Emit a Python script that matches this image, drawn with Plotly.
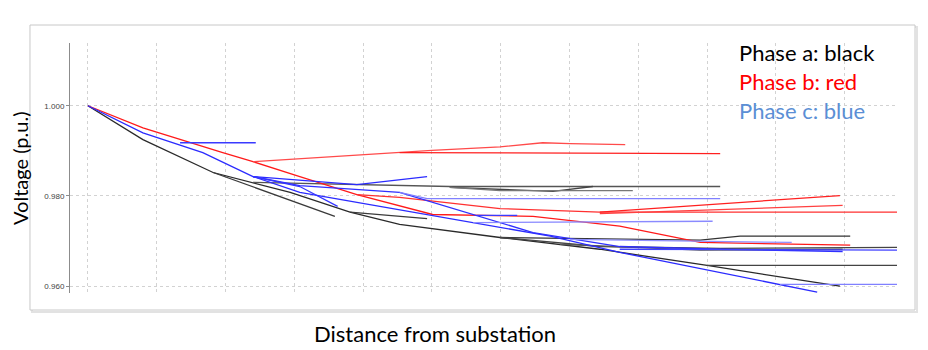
import plotly.graph_objects as go

# distance from substation (grid units) and voltage (p.u.) for each branch
phase_a_dist = [
    [0, 0.80, 1.82, 2.94, 3.81, 4.53, 5.99, 7.44, 9.00, 10.93],
    [9.00, 11.76],
    [3.81, 4.93],
    [1.82, 3.59],
    [2.40, 5.26, 9.19],
    [5.26, 6.76, 7.34],
    [5.26, 5.99, 7.92],
    [5.99, 8.90, 9.48, 11.08],
    [5.99, 7.44, 9.19, 11.76],
    [6.86, 8.90, 10.97],
]
phase_a_volt = [
    [1.0, 0.9925, 0.9852, 0.9808, 0.9764, 0.9737, 0.9708, 0.9682, 0.9646, 0.9600],
    [0.9646, 0.9646],
    [0.9764, 0.9750],
    [0.9852, 0.9755],
    [0.9830, 0.9821, 0.9821],
    [0.9819, 0.9810, 0.9821],
    [0.9819, 0.9812, 0.9812],
    [0.9708, 0.9702, 0.9711, 0.9711],
    [0.9708, 0.9688, 0.9684, 0.9686],
    [0.9693, 0.9680, 0.9682],
]

phase_b_dist = [
    [0, 0.80, 1.96, 2.40, 3.08, 3.91, 5.01, 6.47, 7.73, 8.90, 11.08],
    [3.91, 4.53, 5.99, 7.44, 11.76],
    [7.44, 10.93],
    [7.44, 10.97],
    [2.40, 4.00, 5.00, 5.99, 6.61, 7.01, 7.81],
    [4.53, 9.19],
]
phase_b_volt = [
    [1.0, 0.9951, 0.9896, 0.9876, 0.9843, 0.9803, 0.9759, 0.9755, 0.9733, 0.9697, 0.9691],
    [0.9803, 0.9797, 0.9772, 0.9764, 0.9764],
    [0.9764, 0.9801],
    [0.9761, 0.9779],
    [0.9876, 0.9892, 0.9901, 0.9909, 0.9918, 0.9916, 0.9914],
    [0.9896, 0.9894],
]

phase_c_dist = [
    [0, 0.80, 1.67, 2.40, 3.08, 5.60, 6.72, 7.73, 9.19, 10.60],
    [1.34, 2.44],
    [2.40, 3.91, 4.93],
    [2.40, 3.08, 4.53, 6.47, 7.73, 9.19, 10.97],
    [2.40, 3.08, 3.63],
    [4.53, 4.93, 9.19],
    [5.65, 6.24],
    [5.60, 9.08],
    [10.06, 11.76],
    [7.73, 11.76],
    [7.01, 10.23],
]
phase_c_volt = [
    [1.0, 0.9940, 0.9896, 0.9843, 0.9808, 0.9741, 0.9711, 0.9675, 0.9631, 0.9587],
    [0.9918, 0.9918],
    [0.9843, 0.9825, 0.9843],
    [0.9843, 0.9823, 0.9808, 0.9719, 0.9688, 0.9682, 0.9677],
    [0.9843, 0.9821, 0.9777],
    [0.9808, 0.9794, 0.9794],
    [0.9757, 0.9757],
    [0.9741, 0.9744],
    [0.9604, 0.9604],
    [0.9682, 0.9680],
    [0.9704, 0.9697],
]

y_ticks = [0.96, 0.98, 1.00]
y_tick_text = ["0.960", "0.980", "1.000"]
legend_text = ["Phase a: black", "Phase b: red", "Phase c: blue"]

# line colours per branch
a_colors = ["#2a2a2a", "#444444", "#3a3a3a", "#3a3a3a", "#555555",
            "#444444", "#777777", "#333333", "#444444", "#555555"]
b_colors = ["#ff1a1a", "#ff3030", "#ff2020", "#ff4040", "#ff4a4a", "#ff2020"]
c_colors = ["#2b2bff", "#3a3aff", "#2b2bff", "#3030ff", "#3535ff", "#8080ff",
            "#3a3aff", "#8a8aff", "#8080ff", "#4040ff", "#9090ff"]

fig = go.Figure()
for dists, volts, cols in [(phase_a_dist, phase_a_volt, a_colors),
                           (phase_b_dist, phase_b_volt, b_colors),
                           (phase_c_dist, phase_c_volt, c_colors)]:
    for d, v, c in zip(dists, volts, cols):
        fig.add_trace(go.Scatter(x=d, y=v, mode="lines",
                                 line=dict(color=c, width=1.3),
                                 showlegend=False, hoverinfo="skip"))

# outer frame with a little shadow
fig.add_shape(type="rect", xref="paper", yref="paper",
              x0=-0.0460, x1=1.0242, y0=-0.076, y1=1.064,
              line=dict(color="#e2e2e2", width=2), layer="below")
fig.add_shape(type="rect", xref="paper", yref="paper",
              x0=-0.0484, x1=1.0218, y0=-0.068, y1=1.072,
              line=dict(color="#c8c8c8", width=1), fillcolor="white",
              layer="below")

legend_colors = ["#000000", "#ff0000", "#5b8fd5"]
legend_y = [0.964, 0.848, 0.732]
for t, c, ly in zip(legend_text, legend_colors, legend_y):
    fig.add_annotation(text=t, xref="paper", yref="paper", x=0.8065, y=ly,
                       xanchor="left", yanchor="middle", showarrow=False,
                       font=dict(family="Lato", size=22, color=c))

fig.add_annotation(text="Voltage (p.u.)", xref="paper", yref="paper",
                   x=-0.0605, y=0.5, textangle=-90, showarrow=False,
                   xanchor="center", yanchor="middle", borderpad=0,
                   font=dict(family="Lato", size=20, color="#000000"))
fig.add_annotation(text="Distance from substation", xref="paper", yref="paper",
                   x=0.441, y=-0.16, showarrow=False,
                   xanchor="center", yanchor="middle",
                   font=dict(family="Lato", size=22, color="#000000"))

fig.update_xaxes(range=[-0.26, 11.76], dtick=1, tick0=0, showticklabels=False,
                 showgrid=True, gridcolor="#d2d2d2", griddash="dot", gridwidth=1,
                 zeroline=False, showline=False, ticks="")
fig.update_yaxes(range=[0.9585, 1.0139], tickvals=y_ticks, ticktext=y_tick_text,
                 showgrid=True, gridcolor="#d2d2d2", griddash="dot", gridwidth=1,
                 zeroline=False, showline=True, linecolor="#8c8c8c", linewidth=1,
                 ticks="outside", ticklen=3, tickcolor="#8c8c8c",
                 tickfont=dict(family="Liberation Sans", size=8, color="#444444"))

# page body has an 8px margin, so the figure is drawn 8px smaller
fig.update_layout(width=920, height=342,
                  margin=dict(l=62, r=31, t=35, b=57),
                  paper_bgcolor="white", plot_bgcolor="white")

fig.write_html("out.html")
